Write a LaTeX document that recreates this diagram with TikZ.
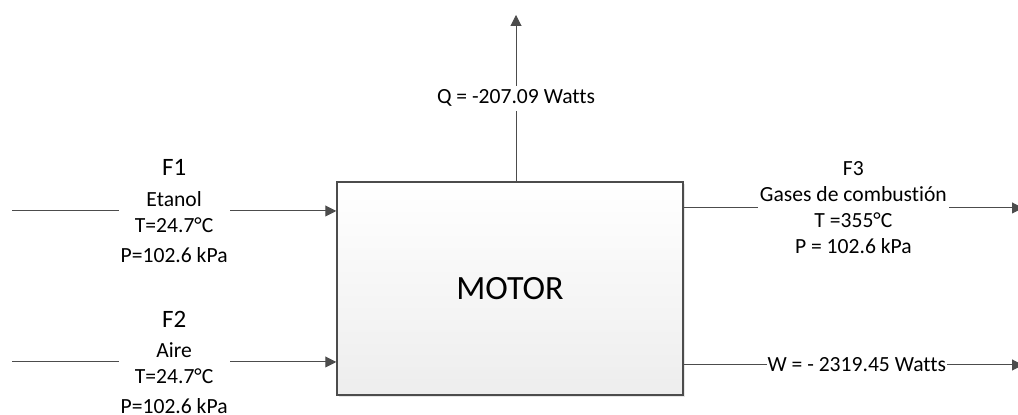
\documentclass[tikz,border=0pt]{standalone}
\usepackage{fontspec}
\setmainfont{Carlito}[Ligatures=NoCommon]
\usepackage{xcolor}
\usetikzlibrary{arrows.meta, positioning, shadows}

\begin{document}
\begin{tikzpicture}[x=0.5pt, y=-0.5pt, >={Triangle[length=5.5pt, width=5.5pt]}]
    % Styles
    \tikzstyle{block} = [rectangle, draw=black!70, line width=0.75pt, top color=white, bottom color=black!7, minimum width=173pt, minimum height=106.5pt, drop shadow={shadow xshift=1.2pt, shadow yshift=-1.2pt, opacity=0.2}, font=\fontsize{17}{20}\selectfont]
    \tikzstyle{line} = [draw=black!70, ->, line width=0.5pt]
    \tikzstyle{stream} = [fill=white, inner sep=1pt, align=center, font=\fontsize{10.8}{13}\selectfont]
    \tikzstyle{flow} = [fill=white, inner sep=0.5pt, font=\fontsize{10.8}{13}\selectfont]

    \useasboundingbox (0,0) rectangle (1018,415);

    % Nodes
    \node [block] (motor) at (510,288.5) {MOTOR};
    \coordinate (f1in) at (12,211);
    \coordinate (f2in) at (12,362);
    \coordinate (f3out) at (1023,208);
    \coordinate (wout) at (1023,365);
    \coordinate (qout) at (516,15);

    % Paths
    \path [line] (f1in) -- node[stream] {{\fontsize{12.5}{15}\selectfont F1}\\[2.5pt] Etanol\\ T=24.7°C\\[2pt] P=102.6 kPa} (f1in -| motor.west);
    \path [line] (f2in) -- node[stream] {{\fontsize{12.5}{15}\selectfont F2}\\[2pt] Aire\\ T=24.7°C\\[2pt] P=102.6 kPa} (f2in -| motor.west);
    \path [line] (f3out -| motor.east) -- node[stream] {F3\\ Gases de combustión\\ T =355°C\\ P = 102.6 kPa} (f3out);
    \path [line] (wout -| motor.east) -- node[flow, pos=0.51] {W = - 2319.45 Watts} (wout);
    \path [line] (qout |- motor.north) -- node[flow, inner sep=2pt] {Q = -207.09 Watts} (qout);
\end{tikzpicture}
\end{document}
